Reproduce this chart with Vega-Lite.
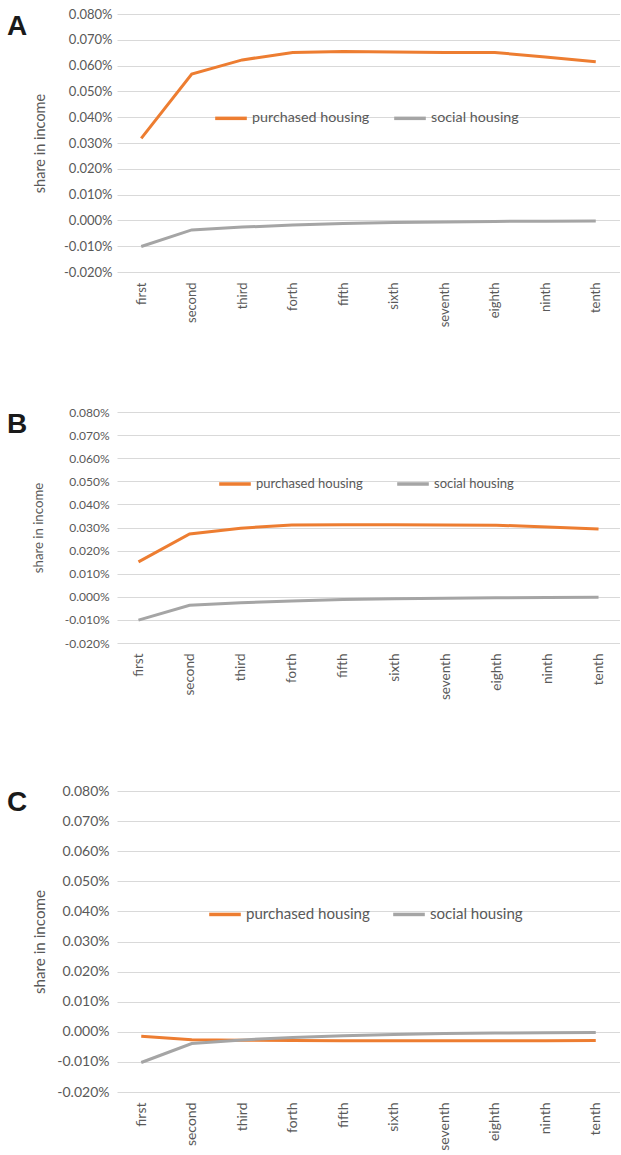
{
  "$schema": "https://vega.github.io/schema/vega-lite/v6.json",
  "padding": {"left": 7, "top": 8, "right": 0, "bottom": 0},
  "background": "white",
  "config": {
    "view": {"stroke": null},
    "font": "Lato",
    "axis": {"labelColor": "#595959", "titleColor": "#595959", "gridColor": "#D9D9D9", "gridWidth": 1, "domain": false, "ticks": false, "labelFont": "Lato", "titleFont": "Lato", "titleFontWeight": "normal"},
    "legend": {"symbolType": "stroke", "symbolSize": 1000, "symbolStrokeWidth": 3.5, "labelColor": "#595959", "labelFont": "Lato", "padding": 0, "labelOffset": 3, "direction": "horizontal", "orient": "none"}
  },
  "datasets": {
    "d": [
      {"panel": "A", "series": "purchased housing", "decile": "first", "share": 0.000318},
      {"panel": "A", "series": "purchased housing", "decile": "second", "share": 0.000567},
      {"panel": "A", "series": "purchased housing", "decile": "third", "share": 0.000622},
      {"panel": "A", "series": "purchased housing", "decile": "forth", "share": 0.000651},
      {"panel": "A", "series": "purchased housing", "decile": "fifth", "share": 0.000655},
      {"panel": "A", "series": "purchased housing", "decile": "sixth", "share": 0.000653},
      {"panel": "A", "series": "purchased housing", "decile": "seventh", "share": 0.000651},
      {"panel": "A", "series": "purchased housing", "decile": "eighth", "share": 0.000651},
      {"panel": "A", "series": "purchased housing", "decile": "ninth", "share": 0.000633},
      {"panel": "A", "series": "purchased housing", "decile": "tenth", "share": 0.000615},
      {"panel": "A", "series": "social housing", "decile": "first", "share": -0.000101},
      {"panel": "A", "series": "social housing", "decile": "second", "share": -0.000037},
      {"panel": "A", "series": "social housing", "decile": "third", "share": -0.000026},
      {"panel": "A", "series": "social housing", "decile": "forth", "share": -0.000018},
      {"panel": "A", "series": "social housing", "decile": "fifth", "share": -0.000012},
      {"panel": "A", "series": "social housing", "decile": "sixth", "share": -0.000008},
      {"panel": "A", "series": "social housing", "decile": "seventh", "share": -0.000006},
      {"panel": "A", "series": "social housing", "decile": "eighth", "share": -0.000004},
      {"panel": "A", "series": "social housing", "decile": "ninth", "share": -0.000003},
      {"panel": "A", "series": "social housing", "decile": "tenth", "share": -0.000002},
      {"panel": "B", "series": "purchased housing", "decile": "first", "share": 0.000151},
      {"panel": "B", "series": "purchased housing", "decile": "second", "share": 0.000272},
      {"panel": "B", "series": "purchased housing", "decile": "third", "share": 0.000297},
      {"panel": "B", "series": "purchased housing", "decile": "forth", "share": 0.000311},
      {"panel": "B", "series": "purchased housing", "decile": "fifth", "share": 0.000312},
      {"panel": "B", "series": "purchased housing", "decile": "sixth", "share": 0.000312},
      {"panel": "B", "series": "purchased housing", "decile": "seventh", "share": 0.000311},
      {"panel": "B", "series": "purchased housing", "decile": "eighth", "share": 0.000310},
      {"panel": "B", "series": "purchased housing", "decile": "ninth", "share": 0.000302},
      {"panel": "B", "series": "purchased housing", "decile": "tenth", "share": 0.000294},
      {"panel": "B", "series": "social housing", "decile": "first", "share": -0.000101},
      {"panel": "B", "series": "social housing", "decile": "second", "share": -0.000037},
      {"panel": "B", "series": "social housing", "decile": "third", "share": -0.000026},
      {"panel": "B", "series": "social housing", "decile": "forth", "share": -0.000018},
      {"panel": "B", "series": "social housing", "decile": "fifth", "share": -0.000012},
      {"panel": "B", "series": "social housing", "decile": "sixth", "share": -0.000008},
      {"panel": "B", "series": "social housing", "decile": "seventh", "share": -0.000006},
      {"panel": "B", "series": "social housing", "decile": "eighth", "share": -0.000004},
      {"panel": "B", "series": "social housing", "decile": "ninth", "share": -0.000003},
      {"panel": "B", "series": "social housing", "decile": "tenth", "share": -0.000002},
      {"panel": "C", "series": "purchased housing", "decile": "first", "share": -0.000015},
      {"panel": "C", "series": "purchased housing", "decile": "second", "share": -0.000026},
      {"panel": "C", "series": "purchased housing", "decile": "third", "share": -0.000028},
      {"panel": "C", "series": "purchased housing", "decile": "forth", "share": -0.000029},
      {"panel": "C", "series": "purchased housing", "decile": "fifth", "share": -0.000030},
      {"panel": "C", "series": "purchased housing", "decile": "sixth", "share": -0.000030},
      {"panel": "C", "series": "purchased housing", "decile": "seventh", "share": -0.000030},
      {"panel": "C", "series": "purchased housing", "decile": "eighth", "share": -0.000030},
      {"panel": "C", "series": "purchased housing", "decile": "ninth", "share": -0.000030},
      {"panel": "C", "series": "purchased housing", "decile": "tenth", "share": -0.000029},
      {"panel": "C", "series": "social housing", "decile": "first", "share": -0.000102},
      {"panel": "C", "series": "social housing", "decile": "second", "share": -0.000039},
      {"panel": "C", "series": "social housing", "decile": "third", "share": -0.000027},
      {"panel": "C", "series": "social housing", "decile": "forth", "share": -0.000019},
      {"panel": "C", "series": "social housing", "decile": "fifth", "share": -0.000013},
      {"panel": "C", "series": "social housing", "decile": "sixth", "share": -0.000009},
      {"panel": "C", "series": "social housing", "decile": "seventh", "share": -0.000006},
      {"panel": "C", "series": "social housing", "decile": "eighth", "share": -0.000004},
      {"panel": "C", "series": "social housing", "decile": "ninth", "share": -0.000003},
      {"panel": "C", "series": "social housing", "decile": "tenth", "share": -0.000002}
    ]
  },
  "spacing": 79,
  "resolve": {"scale": {"color": "independent"}, "legend": {"color": "independent"}},
  "vconcat": [
    {
      "title": {"text": "A", "anchor": "start", "frame": "group", "orient": "top", "offset": -33, "dx": -110, "fontSize": 28, "font": "Liberation Sans", "fontWeight": "bold", "color": "#1a1a1a"},
      "width": 503, "height": 258,
      "data": {"name": "d"},
      "transform": [{"filter": "datum.panel === 'A'"}],
      "mark": {"type": "line", "strokeWidth": 3},
      "encoding": {
        "x": {"field": "decile", "type": "ordinal", "sort": ["first","second","third","forth","fifth","sixth","seventh","eighth","ninth","tenth"], "scale": {"type": "point", "padding": 0.48}, "axis": {"title": null, "labelAngle": -90, "labelFontSize": 13, "labelPadding": 10, "grid": false}},
        "y": {"field": "share", "type": "quantitative", "scale": {"domain": [-0.0002, 0.0008], "nice": false, "zero": false}, "axis": {"title": "share in income", "values": [-0.0002,-0.0001,0,0.0001,0.0002,0.0003,0.0004,0.0005,0.0006,0.0007,0.0008], "labelExpr": "replace(format(datum.value, '.3%'), '\u2212', '-')", "labelFontSize": 13, "titleFontSize": 14.5, "labelPadding": 5, "titlePadding": 16}},
        "color": {"field": "series", "type": "nominal", "scale": {"domain": ["purchased housing", "social housing"], "range": ["#ED7D31", "#A5A5A5"]}, "legend": {"orient": "none", "legendX": 96, "legendY": 86, "direction": "horizontal", "title": null, "labelFontSize": 14.3, "columnPadding": 17}}
      }
    },
    {
      "title": {"text": "B", "anchor": "start", "frame": "group", "orient": "top", "offset": -33, "dx": -110, "fontSize": 28, "font": "Liberation Sans", "fontWeight": "bold", "color": "#1a1a1a"},
      "width": 503, "height": 231,
      "data": {"name": "d"},
      "transform": [{"filter": "datum.panel === 'B'"}],
      "mark": {"type": "line", "strokeWidth": 3},
      "encoding": {
        "x": {"field": "decile", "type": "ordinal", "sort": ["first","second","third","forth","fifth","sixth","seventh","eighth","ninth","tenth"], "scale": {"type": "point", "padding": 0.42}, "axis": {"title": " ", "titleFontSize": 4, "titlePadding": 1, "labelAngle": -90, "labelFontSize": 13.5, "labelPadding": 10, "grid": false}},
        "y": {"field": "share", "type": "quantitative", "scale": {"domain": [-0.0002, 0.0008], "nice": false, "zero": false}, "axis": {"title": "share in income", "values": [-0.0002,-0.0001,0,0.0001,0.0002,0.0003,0.0004,0.0005,0.0006,0.0007,0.0008], "labelExpr": "replace(format(datum.value, '.3%'), '\u2212', '-')", "labelFontSize": 12, "titleFontSize": 13.2, "labelPadding": 8, "titlePadding": 19}},
        "color": {"field": "series", "type": "nominal", "scale": {"domain": ["purchased housing", "social housing"], "range": ["#ED7D31", "#A5A5A5"]}, "legend": {"orient": "none", "legendX": 100, "legendY": 54, "direction": "horizontal", "title": null, "labelFontSize": 13, "columnPadding": 27}}
      }
    },
    {
      "title": {"text": "C", "anchor": "start", "frame": "group", "orient": "top", "offset": -33, "dx": -110, "fontSize": 28, "font": "Liberation Sans", "fontWeight": "bold", "color": "#1a1a1a"},
      "width": 503, "height": 301,
      "data": {"name": "d"},
      "transform": [{"filter": "datum.panel === 'C'"}],
      "mark": {"type": "line", "strokeWidth": 3},
      "encoding": {
        "x": {"field": "decile", "type": "ordinal", "sort": ["first","second","third","forth","fifth","sixth","seventh","eighth","ninth","tenth"], "scale": {"type": "point", "padding": 0.48}, "axis": {"title": null, "labelAngle": -90, "labelFontSize": 14, "labelPadding": 10, "grid": false}},
        "y": {"field": "share", "type": "quantitative", "scale": {"domain": [-0.0002, 0.0008], "nice": false, "zero": false}, "axis": {"title": "share in income", "values": [-0.0002,-0.0001,0,0.0001,0.0002,0.0003,0.0004,0.0005,0.0006,0.0007,0.0008], "labelExpr": "replace(format(datum.value, '.3%'), '\u2212', '-')", "labelFontSize": 14, "titleFontSize": 15.2, "labelPadding": 8, "titlePadding": 9}},
        "color": {"field": "series", "type": "nominal", "scale": {"domain": ["purchased housing", "social housing"], "range": ["#ED7D31", "#A5A5A5"]}, "legend": {"orient": "none", "legendX": 90, "legendY": 105, "direction": "horizontal", "title": null, "labelFontSize": 15.1, "columnPadding": 16}}
      }
    }
  ]
}
